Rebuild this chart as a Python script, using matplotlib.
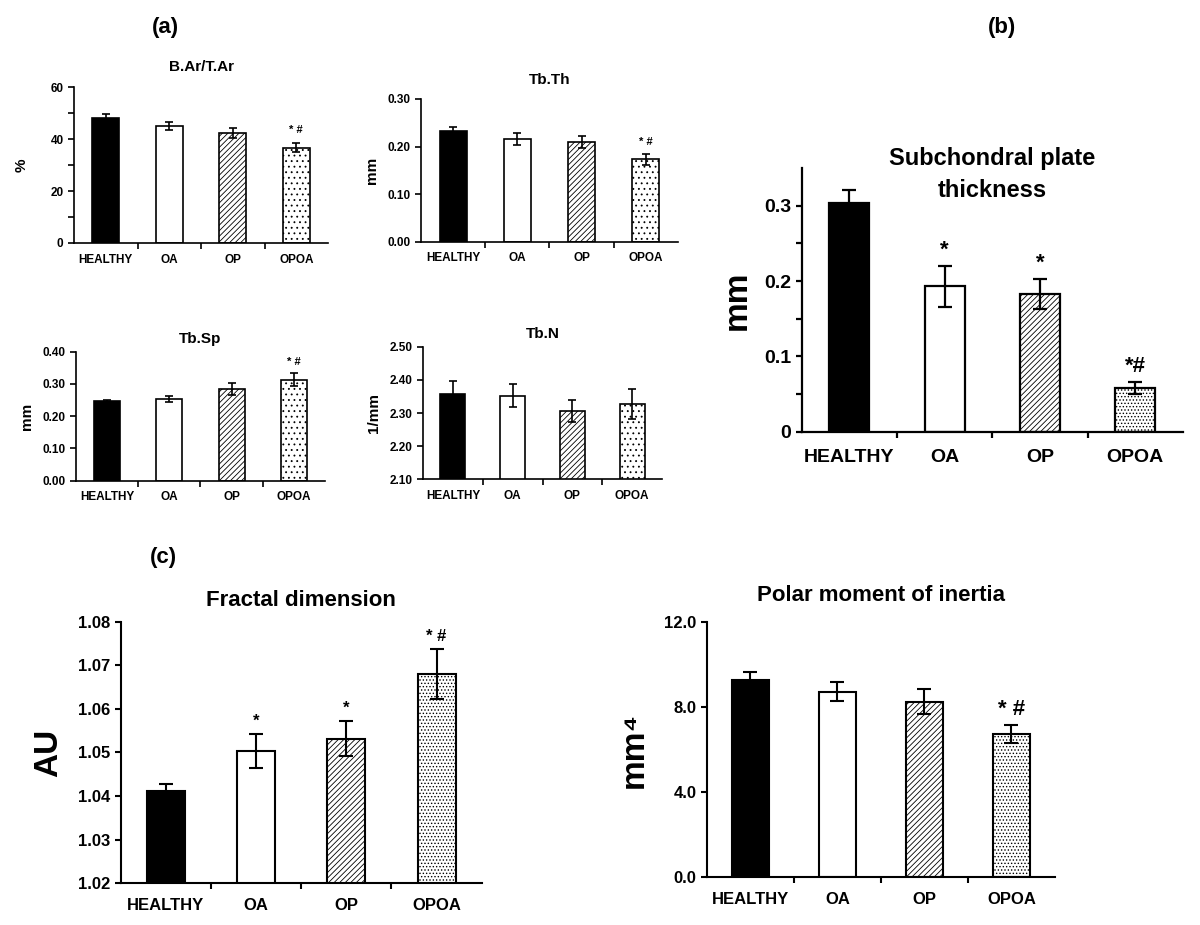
import numpy as np
import matplotlib
matplotlib.use("Agg")
import matplotlib.pyplot as plt

plt.rcParams['font.family'] = ['Liberation Sans', 'DejaVu Sans']
plt.rcParams['font.weight'] = 'bold'
plt.rcParams['hatch.linewidth'] = 0.9

groups = ['HEALTHY', 'OA', 'OP', 'OPOA']

# (a) histomorphometry
bar_mean = [48.0, 45.0, 42.3, 36.7]
bar_err = [1.8, 1.7, 1.8, 1.8]
bar_marks = ['', '', '', '* #']

tbth_mean = [0.232, 0.216, 0.210, 0.173]
tbth_err = [0.009, 0.012, 0.012, 0.012]
tbth_marks = ['', '', '', '* #']

tbsp_mean = [0.246, 0.254, 0.284, 0.313]
tbsp_err = [0.005, 0.010, 0.018, 0.020]
tbsp_marks = ['', '', '', '* #']

tbn_mean = [2.357, 2.352, 2.307, 2.327]
tbn_err = [0.040, 0.035, 0.033, 0.046]
tbn_marks = ['', '', '', '']

# (b) subchondral plate
scp_mean = [0.304, 0.193, 0.183, 0.058]
scp_err = [0.017, 0.027, 0.020, 0.008]
scp_marks = ['', '*', '*', '*#']

# (c)
fd_mean = [1.0412, 1.0503, 1.0532, 1.0680]
fd_err = [0.0016, 0.0039, 0.0041, 0.0057]
fd_marks = ['', '*', '*', '* #']

pmi_mean = [9.25, 8.72, 8.25, 6.72]
pmi_err = [0.37, 0.45, 0.60, 0.42]
pmi_marks = ['', '', '', '* #']

colors = ['black', 'white', 'white', 'white']
hatches_small = ['', '', '//////', '...']
hatches_big = ['', '', '//////', '.....']


def panel(rect, means, errs, marks, title, ylabel, ylim, yticks, yfmt,
          minor=None, fs=8.5, tfs=11, lfs=11, mfs=8, lw=1.2, hatches=hatches_small,
          title_y=1.05, mark_pad=0.05, cap=3, lpad=4, ha_lw=0.6):
    ax = fig.add_axes(rect)
    x = np.arange(len(groups))
    bars = ax.bar(x, means, width=0.42, color=colors, edgecolor='black',
                  linewidth=lw, hatch=hatches, zorder=2)
    for b in bars:
        if hasattr(b, 'set_hatch_linewidth'):
            b.set_hatch_linewidth(ha_lw)
    ax.errorbar(x, means, yerr=errs, fmt='none', ecolor='black',
                elinewidth=lw, capsize=cap, capthick=lw, zorder=3)
    span = ylim[1] - ylim[0]
    for xi, m, e, t in zip(x, means, errs, marks):
        if t:
            ax.text(xi, m + e + mark_pad * span, t, ha='center', va='bottom',
                    fontsize=mfs, fontweight='bold')
    ax.set_xlim(-0.5, len(groups) - 0.5)
    ax.set_ylim(*ylim)
    ax.set_yticks(yticks)
    ax.set_yticklabels([yfmt.format(v) for v in yticks], fontsize=fs,
                       fontweight='bold')
    if minor is not None:
        ax.set_yticks(minor, minor=True)
    ax.set_xticks(np.arange(len(groups) - 1) + 0.5)
    ax.set_xticklabels([])
    ax.set_xticks(x, minor=True)
    ax.set_xticklabels(groups, minor=True, fontsize=fs, fontweight='bold')
    ax.tick_params(axis='x', which='minor', length=0, pad=fs * 0.9)
    ax.tick_params(axis='x', which='major', length=4, width=lw, direction='out')
    ax.tick_params(axis='y', which='both', length=4, width=lw, direction='out')
    ax.spines['top'].set_visible(False)
    ax.spines['right'].set_visible(False)
    ax.spines['left'].set_linewidth(lw)
    ax.spines['bottom'].set_linewidth(lw)
    ax.set_title(title, fontsize=tfs, fontweight='bold', y=title_y,
                 linespacing=1.5)
    ax.set_ylabel(ylabel, fontsize=lfs, fontweight='bold', labelpad=lpad)
    return ax


fig = plt.figure(figsize=(12, 9.25), dpi=100)

panel([0.0617, 0.7373, 0.2117, 0.1686], bar_mean, bar_err, bar_marks,
      'B.Ar/T.Ar', '%', (0, 60), [0, 20, 40, 60], '{:.0f}',
      minor=[10, 30, 50], lpad=16)
panel([0.3508, 0.7387, 0.2142, 0.1543], tbth_mean, tbth_err, tbth_marks,
      'Tb.Th', 'mm', (0, 0.30), [0, 0.1, 0.2, 0.3], '{:.2f}', lpad=6)
panel([0.0633, 0.4803, 0.2075, 0.1395], tbsp_mean, tbsp_err, tbsp_marks,
      'Tb.Sp', 'mm', (0, 0.40), [0, 0.1, 0.2, 0.3, 0.4], '{:.2f}', title_y=1.0,
      lpad=6)
panel([0.3525, 0.4818, 0.1992, 0.1434], tbn_mean, tbn_err, tbn_marks,
      'Tb.N', '1/mm', (2.10, 2.50), [2.1, 2.2, 2.3, 2.4, 2.5], '{:.2f}',
      title_y=1.0, lpad=6)

panel([0.668, 0.5333, 0.3178, 0.2851], scp_mean, scp_err, scp_marks,
      'Subchondral plate\nthickness', 'mm', (0, 0.35), [0, 0.1, 0.2, 0.3],
      '{:g}', minor=[0.05, 0.15, 0.25], fs=14, tfs=17, lfs=24, mfs=16,
      lw=1.6, hatches=hatches_big, title_y=0.86, mark_pad=0.02, cap=5,
      lpad=8)

panel([0.1006, 0.0451, 0.3008, 0.2828], fd_mean, fd_err, fd_marks,
      'Fractal dimension', 'AU', (1.02, 1.08),
      [1.02, 1.03, 1.04, 1.05, 1.06, 1.07, 1.08], '{:.2f}',
      fs=12, tfs=16, lfs=24, mfs=12, lw=1.5, hatches=hatches_big,
      title_y=1.03, mark_pad=0.02, cap=5, lpad=10)
panel([0.5889, 0.0516, 0.2903, 0.2763], pmi_mean, pmi_err, pmi_marks,
      'Polar moment of inertia', 'mm\u2074', (0, 12), [0, 4, 8, 12],
      '{:.1f}', fs=12, tfs=16, lfs=24, mfs=16, lw=1.5, hatches=hatches_big,
      title_y=1.05, mark_pad=0.02, cap=5, lpad=10)

fig.text(165 / 1200, 1 - 28 / 925, '(a)', fontsize=16, fontweight='bold',
         ha='center', va='center')
fig.text(1002 / 1200, 1 - 28 / 925, '(b)', fontsize=16, fontweight='bold',
         ha='center', va='center')
fig.text(163 / 1200, 1 - 557 / 925, '(c)', fontsize=16, fontweight='bold',
         ha='center', va='center')

fig.savefig('out.png', dpi=100)
